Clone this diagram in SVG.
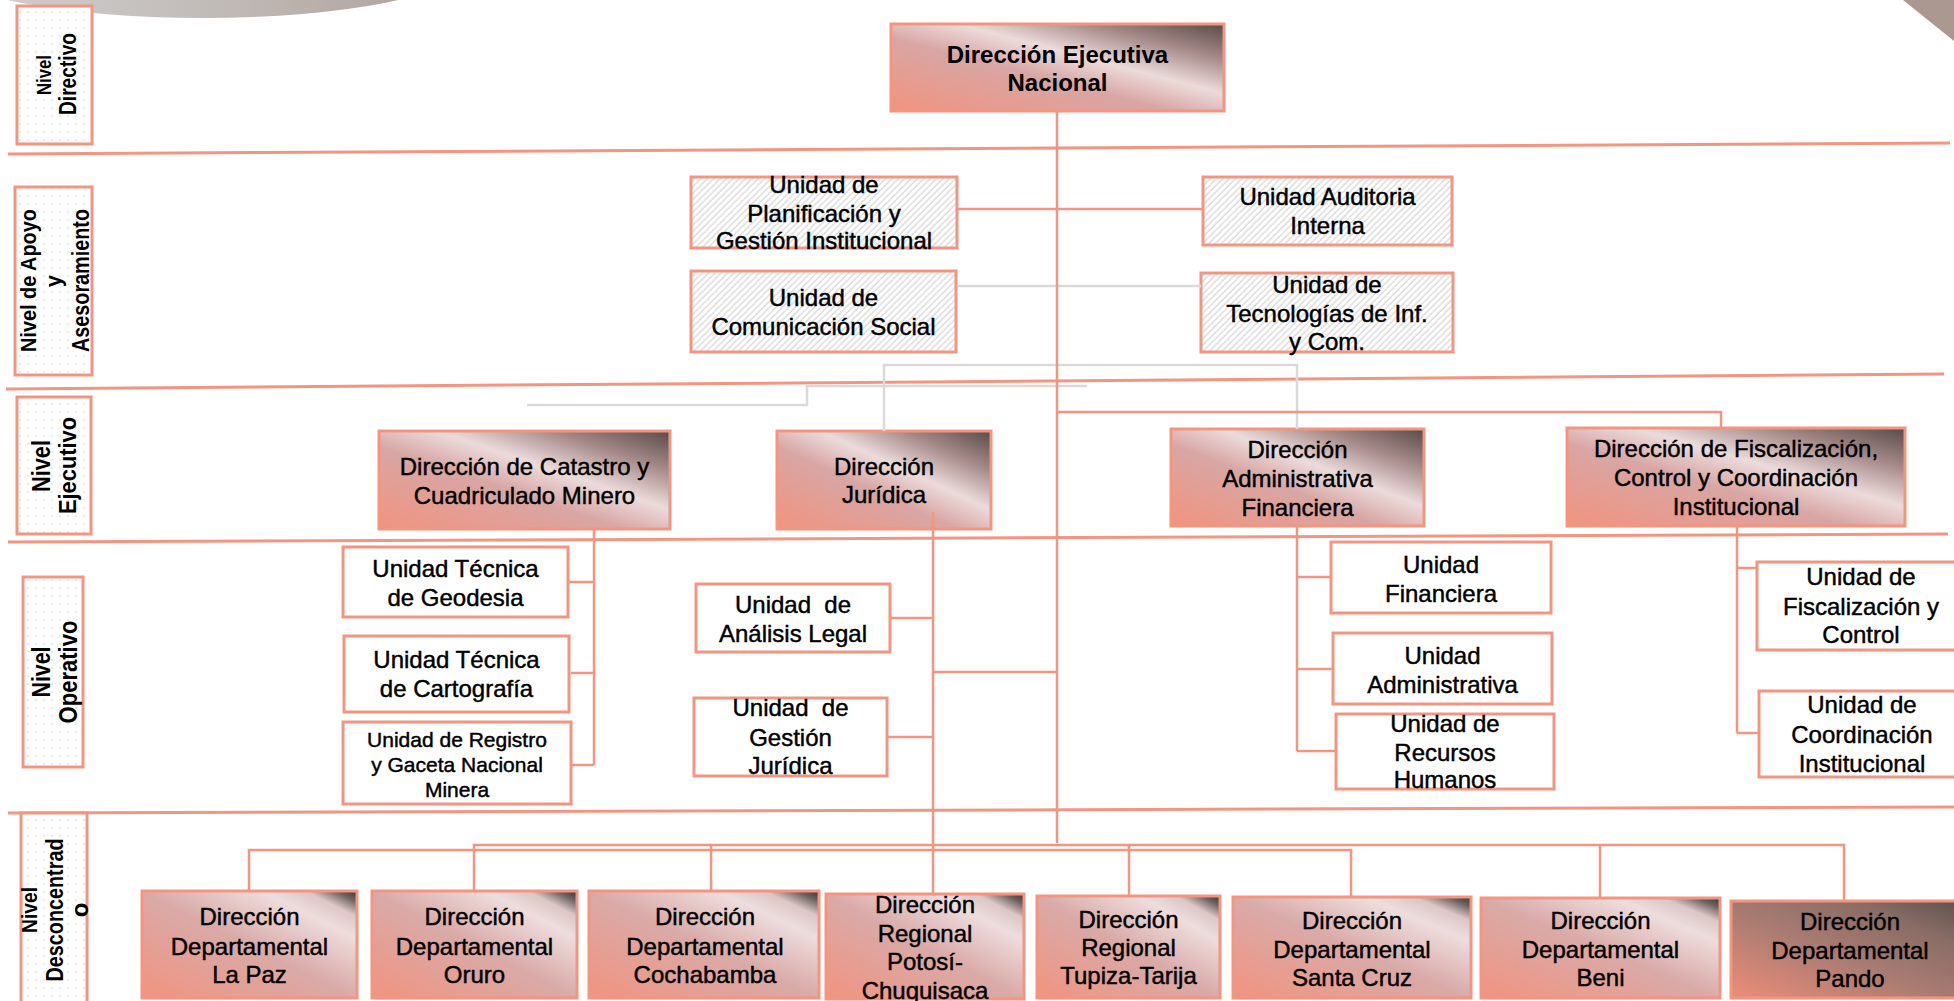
<svg xmlns="http://www.w3.org/2000/svg" width="1954" height="1001" viewBox="0 0 1954 1001">
<defs>
<style>
.t{font-family:"Liberation Sans",Arial,sans-serif;font-size:24px;fill:#000;text-anchor:middle;stroke:#000;stroke-width:0.45px}
.b{font-weight:bold;stroke-width:0}
.s{font-size:21px}
.box{stroke:#f39580;stroke-width:3}
.gx{fill:url(#gExec)}
.gd{fill:url(#gDept)}
.gp{fill:url(#gPando)}
.ht{fill:url(#hatch)}
.w{fill:#fff}
.lab{fill:url(#dots);stroke:#f39580;stroke-width:3}
.sep{stroke:#f39580;stroke-width:3;fill:none}
.c{stroke:#f39580;stroke-width:2.5;fill:none}
.g{stroke:#d9d9d9;stroke-width:2.5;fill:none}
</style>
<linearGradient id="gExec" x1="0" y1="1" x2="1" y2="0">
<stop offset="0" stop-color="#f2937f"/>
<stop offset="0.42" stop-color="#d8a6a4"/>
<stop offset="0.6" stop-color="#ecdbdb"/>
<stop offset="0.8" stop-color="#a38886"/>
<stop offset="1" stop-color="#574b49"/>
</linearGradient>
<linearGradient id="gDept" x1="0" y1="1" x2="1" y2="0">
<stop offset="0" stop-color="#f2937f"/>
<stop offset="0.5" stop-color="#d9aaa8"/>
<stop offset="0.78" stop-color="#eedddd"/>
<stop offset="0.88" stop-color="#dcc6c6"/>
<stop offset="0.95" stop-color="#6e6260"/>
<stop offset="1" stop-color="#3c3636"/>
</linearGradient>
<linearGradient id="gPando" x1="0" y1="1" x2="1" y2="0">
<stop offset="0" stop-color="#ec8d79"/>
<stop offset="0.45" stop-color="#a97b72"/>
<stop offset="0.75" stop-color="#8a6d66"/>
<stop offset="1" stop-color="#5b4f4c"/>
</linearGradient>
<linearGradient id="gEll" x1="0" y1="0" x2="1" y2="0">
<stop offset="0" stop-color="#d2d2d2"/>
<stop offset="0.5" stop-color="#c2bcb9"/>
<stop offset="1" stop-color="#ad9f98"/>
</linearGradient>
<pattern id="dots" width="8" height="8" patternUnits="userSpaceOnUse">
<rect width="8" height="8" fill="#fff"/>
<circle cx="4" cy="4" r="0.8" fill="#cfcfcf"/>
</pattern>
<pattern id="hatch" width="4.5" height="4.5" patternUnits="userSpaceOnUse" patternTransform="rotate(45)">
<rect width="4.5" height="4.5" fill="#fff"/>
<line x1="1" y1="0" x2="1" y2="4.5" stroke="#cccccc" stroke-width="1"/>
</pattern>
</defs>
<rect width="1954" height="1001" fill="#fff"/>
<g id="decor">
<ellipse cx="203" cy="-35" rx="260" ry="53" fill="url(#gEll)"/>
<path d="M1903,0 L1954,41 L1954,0 Z" fill="#ab9991"/>
</g>
<g id="separators">
<path class="sep" d="M8,154 L1950,143"/>
<path class="sep" d="M6,389 L1944,374"/>
<path class="sep" d="M8,542 L1948,534"/>
<path class="sep" d="M8,813 L1954,807"/>
</g>
<g id="levels">
<g id="lvl-directivo">
<rect class="lab" x="17" y="6" width="75" height="138"/>
<text class="t b" transform="translate(50.5,75) rotate(-90)" textLength="40" lengthAdjust="spacingAndGlyphs" style="font-size:21px">Nivel</text>
<text class="t b" transform="translate(76,74) rotate(-90)" textLength="82" lengthAdjust="spacingAndGlyphs" style="font-size:23px">Directivo</text>
</g>
<g id="lvl-apoyo">
<rect class="lab" x="15" y="187" width="77" height="188"/>
<text class="t b" transform="translate(36,280.5) rotate(-90)" textLength="143" lengthAdjust="spacingAndGlyphs" style="font-size:22px">Nivel de Apoyo</text>
<text class="t b" transform="translate(61,281) rotate(-90)" style="font-size:22px">y</text>
<text class="t b" transform="translate(89,280.5) rotate(-90)" textLength="143" lengthAdjust="spacingAndGlyphs" style="font-size:24px">Asesoramiento</text>
</g>
<g id="lvl-ejecutivo">
<rect class="lab" x="17" y="397" width="74" height="137"/>
<text class="t b" transform="translate(50,466) rotate(-90)" textLength="52" lengthAdjust="spacingAndGlyphs" style="font-size:26px">Nivel</text>
<text class="t b" transform="translate(76,465.5) rotate(-90)" textLength="97" lengthAdjust="spacingAndGlyphs" style="font-size:24px">Ejecutivo</text>
</g>
<g id="lvl-operativo">
<rect class="lab" x="23" y="577" width="60" height="190"/>
<text class="t b" transform="translate(50,672) rotate(-90)" textLength="51" lengthAdjust="spacingAndGlyphs" style="font-size:26px">Nivel</text>
<text class="t b" transform="translate(77,672) rotate(-90)" textLength="103" lengthAdjust="spacingAndGlyphs" style="font-size:25px">Operativo</text>
</g>
<g id="lvl-desconcentrado">
<rect class="lab" x="21" y="813" width="66" height="200"/>
<text class="t b" transform="translate(37,910) rotate(-90)" textLength="46" lengthAdjust="spacingAndGlyphs" style="font-size:22px">Nivel</text>
<text class="t b" transform="translate(63,910) rotate(-90)" textLength="143" lengthAdjust="spacingAndGlyphs" style="font-size:24px">Desconcentrad</text>
<text class="t b" transform="translate(88,910) rotate(-90)" style="font-size:24px">o</text>
</g>
</g>
<g id="nodes">
<g id="n-direccion-ejecutiva">
<rect class="box gx" x="891" y="24" width="333" height="87"/>
<text class="t b" x="1057.5" y="62.5">Dirección Ejecutiva</text>
<text class="t b" x="1057.5" y="91">Nacional</text>
</g>
<g id="n-planificacion">
<rect class="box ht" x="691" y="177" width="266" height="71"/>
<text class="t" x="824" y="193">Unidad de</text>
<text class="t" x="824" y="222">Planificación y</text>
<text class="t" x="824" y="249">Gestión Institucional</text>
</g>
<g id="n-comunicacion">
<rect class="box ht" x="691" y="271" width="265" height="81"/>
<text class="t" x="823.5" y="306">Unidad de</text>
<text class="t" x="823.5" y="335">Comunicación Social</text>
</g>
<g id="n-auditoria">
<rect class="box ht" x="1203" y="177" width="249" height="68"/>
<text class="t" x="1327.5" y="204.5">Unidad Auditoria</text>
<text class="t" x="1327.5" y="234">Interna</text>
</g>
<g id="n-tecnologias">
<rect class="box ht" x="1201" y="273" width="252" height="79"/>
<text class="t" x="1327" y="293">Unidad de</text>
<text class="t" x="1327" y="322">Tecnologías de Inf.</text>
<text class="t" x="1327" y="350">y Com.</text>
</g>
<g id="n-catastro">
<rect class="box gx" x="379" y="431" width="291" height="98"/>
<text class="t" x="524.5" y="475">Dirección de Catastro y</text>
<text class="t" x="524.5" y="504">Cuadriculado Minero</text>
</g>
<g id="n-juridica">
<rect class="box gx" x="777" y="431" width="214" height="98"/>
<text class="t" x="884" y="475">Dirección</text>
<text class="t" x="884" y="503">Jurídica</text>
</g>
<g id="n-administrativa-financiera">
<rect class="box gx" x="1171" y="429" width="253" height="97"/>
<text class="t" x="1297.5" y="458">Dirección</text>
<text class="t" x="1297.5" y="487">Administrativa</text>
<text class="t" x="1297.5" y="516">Financiera</text>
</g>
<g id="n-fiscalizacion">
<rect class="box gx" x="1567" y="428" width="338" height="98"/>
<text class="t" x="1736" y="457">Dirección de Fiscalización,</text>
<text class="t" x="1736" y="486">Control y Coordinación</text>
<text class="t" x="1736" y="515">Institucional</text>
</g>
<g id="n-geodesia">
<rect class="box w" x="343" y="547" width="225" height="70"/>
<text class="t" x="455.5" y="577">Unidad Técnica</text>
<text class="t" x="455.5" y="606">de Geodesia</text>
</g>
<g id="n-cartografia">
<rect class="box w" x="344" y="636" width="225" height="76"/>
<text class="t" x="456.5" y="668">Unidad Técnica</text>
<text class="t" x="456.5" y="697">de Cartografía</text>
</g>
<g id="n-registro">
<rect class="box w" x="343" y="722" width="228" height="82"/>
<text class="t s" x="457" y="747">Unidad de Registro</text>
<text class="t s" x="457" y="772">y Gaceta Nacional</text>
<text class="t s" x="457" y="797">Minera</text>
</g>
<g id="n-analisis-legal">
<rect class="box w" x="696" y="584" width="194" height="68"/>
<text class="t" x="793" y="613" xml:space="preserve">Unidad  de</text>
<text class="t" x="793" y="642">Análisis Legal</text>
</g>
<g id="n-gestion-juridica">
<rect class="box w" x="694" y="698" width="193" height="78"/>
<text class="t" x="790.5" y="716" xml:space="preserve">Unidad  de</text>
<text class="t" x="790.5" y="746">Gestión</text>
<text class="t" x="790.5" y="774">Jurídica</text>
</g>
<g id="n-financiera">
<rect class="box w" x="1331" y="542" width="220" height="71"/>
<text class="t" x="1441" y="573">Unidad</text>
<text class="t" x="1441" y="602">Financiera</text>
</g>
<g id="n-administrativa">
<rect class="box w" x="1333" y="633" width="219" height="71"/>
<text class="t" x="1442.5" y="664">Unidad</text>
<text class="t" x="1442.5" y="693">Administrativa</text>
</g>
<g id="n-rrhh">
<rect class="box w" x="1336" y="714" width="218" height="75"/>
<text class="t" x="1445" y="732">Unidad de</text>
<text class="t" x="1445" y="761">Recursos</text>
<text class="t" x="1445" y="788">Humanos</text>
</g>
<g id="n-fiscalizacion-control">
<rect class="box w" x="1757" y="562" width="210" height="88"/>
<text class="t" x="1861" y="585">Unidad de</text>
<text class="t" x="1861" y="615">Fiscalización y</text>
<text class="t" x="1861" y="643">Control</text>
</g>
<g id="n-coordinacion">
<rect class="box w" x="1759" y="691" width="210" height="86"/>
<text class="t" x="1862" y="713">Unidad de</text>
<text class="t" x="1862" y="743">Coordinación</text>
<text class="t" x="1862" y="772">Institucional</text>
</g>
<g id="n-la-paz">
<rect class="box gd" x="142" y="891" width="215" height="107"/>
<text class="t" x="249.5" y="925">Dirección</text>
<text class="t" x="249.5" y="955">Departamental</text>
<text class="t" x="249.5" y="983">La Paz</text>
</g>
<g id="n-oruro">
<rect class="box gd" x="372" y="891" width="205" height="107"/>
<text class="t" x="474.5" y="925">Dirección</text>
<text class="t" x="474.5" y="955">Departamental</text>
<text class="t" x="474.5" y="983">Oruro</text>
</g>
<g id="n-cochabamba">
<rect class="box gd" x="589" y="891" width="230" height="107"/>
<text class="t" x="705" y="925">Dirección</text>
<text class="t" x="705" y="955">Departamental</text>
<text class="t" x="705" y="983">Cochabamba</text>
</g>
<g id="n-potosi">
<rect class="box gd" x="826" y="894" width="198" height="105"/>
<text class="t" x="925" y="913">Dirección</text>
<text class="t" x="925" y="942">Regional</text>
<text class="t" x="925" y="970">Potosí-</text>
<text class="t" x="925" y="999">Chuquisaca</text>
</g>
<g id="n-tupiza">
<rect class="box gd" x="1037" y="896" width="183" height="102"/>
<text class="t" x="1128.5" y="928">Dirección</text>
<text class="t" x="1128.5" y="956">Regional</text>
<text class="t" x="1128.5" y="984">Tupiza-Tarija</text>
</g>
<g id="n-santa-cruz">
<rect class="box gd" x="1233" y="897" width="238" height="101"/>
<text class="t" x="1352" y="929">Dirección</text>
<text class="t" x="1352" y="958">Departamental</text>
<text class="t" x="1352" y="986">Santa Cruz</text>
</g>
<g id="n-beni">
<rect class="box gd" x="1481" y="898" width="239" height="100"/>
<text class="t" x="1600.5" y="929">Dirección</text>
<text class="t" x="1600.5" y="958">Departamental</text>
<text class="t" x="1600.5" y="986">Beni</text>
</g>
<g id="n-pando">
<rect class="box gp" x="1731" y="901" width="238" height="97"/>
<text class="t" x="1850" y="930">Dirección</text>
<text class="t" x="1850" y="959">Departamental</text>
<text class="t" x="1850" y="987">Pando</text>
</g>
</g>
<g id="connectors">
<path class="g" d="M958,286 H1201"/>
<path class="g" d="M884,431 V365 H1297 V429"/>
<path class="g" d="M527,405 H807 V386 H1087"/>
<path class="c" d="M1057,111 V843"/>
<path class="c" d="M957,209 H1203"/>
<path class="c" d="M1057,412 H1721 V428"/>
<path class="c" d="M594,527 V765 M568,582 H594 M571,673 H594 M571,765 H594"/>
<path class="c" d="M933,512 V894 M890,618 H933 M887,737 H933 M933,672 H1057"/>
<path class="c" d="M1297,526 V751 M1297,577 H1331 M1297,669 H1333 M1297,751 H1336"/>
<path class="c" d="M1737,526 V733 M1737,568 H1757 M1737,733 H1759"/>
<path class="c" d="M249,891 V850 H1351 V897"/>
<path class="c" d="M474,891 V845 H1844 V901"/>
<path class="c" d="M711,845 V891 M1129,845 V896 M1600,845 V898"/>
</g>
</svg>
